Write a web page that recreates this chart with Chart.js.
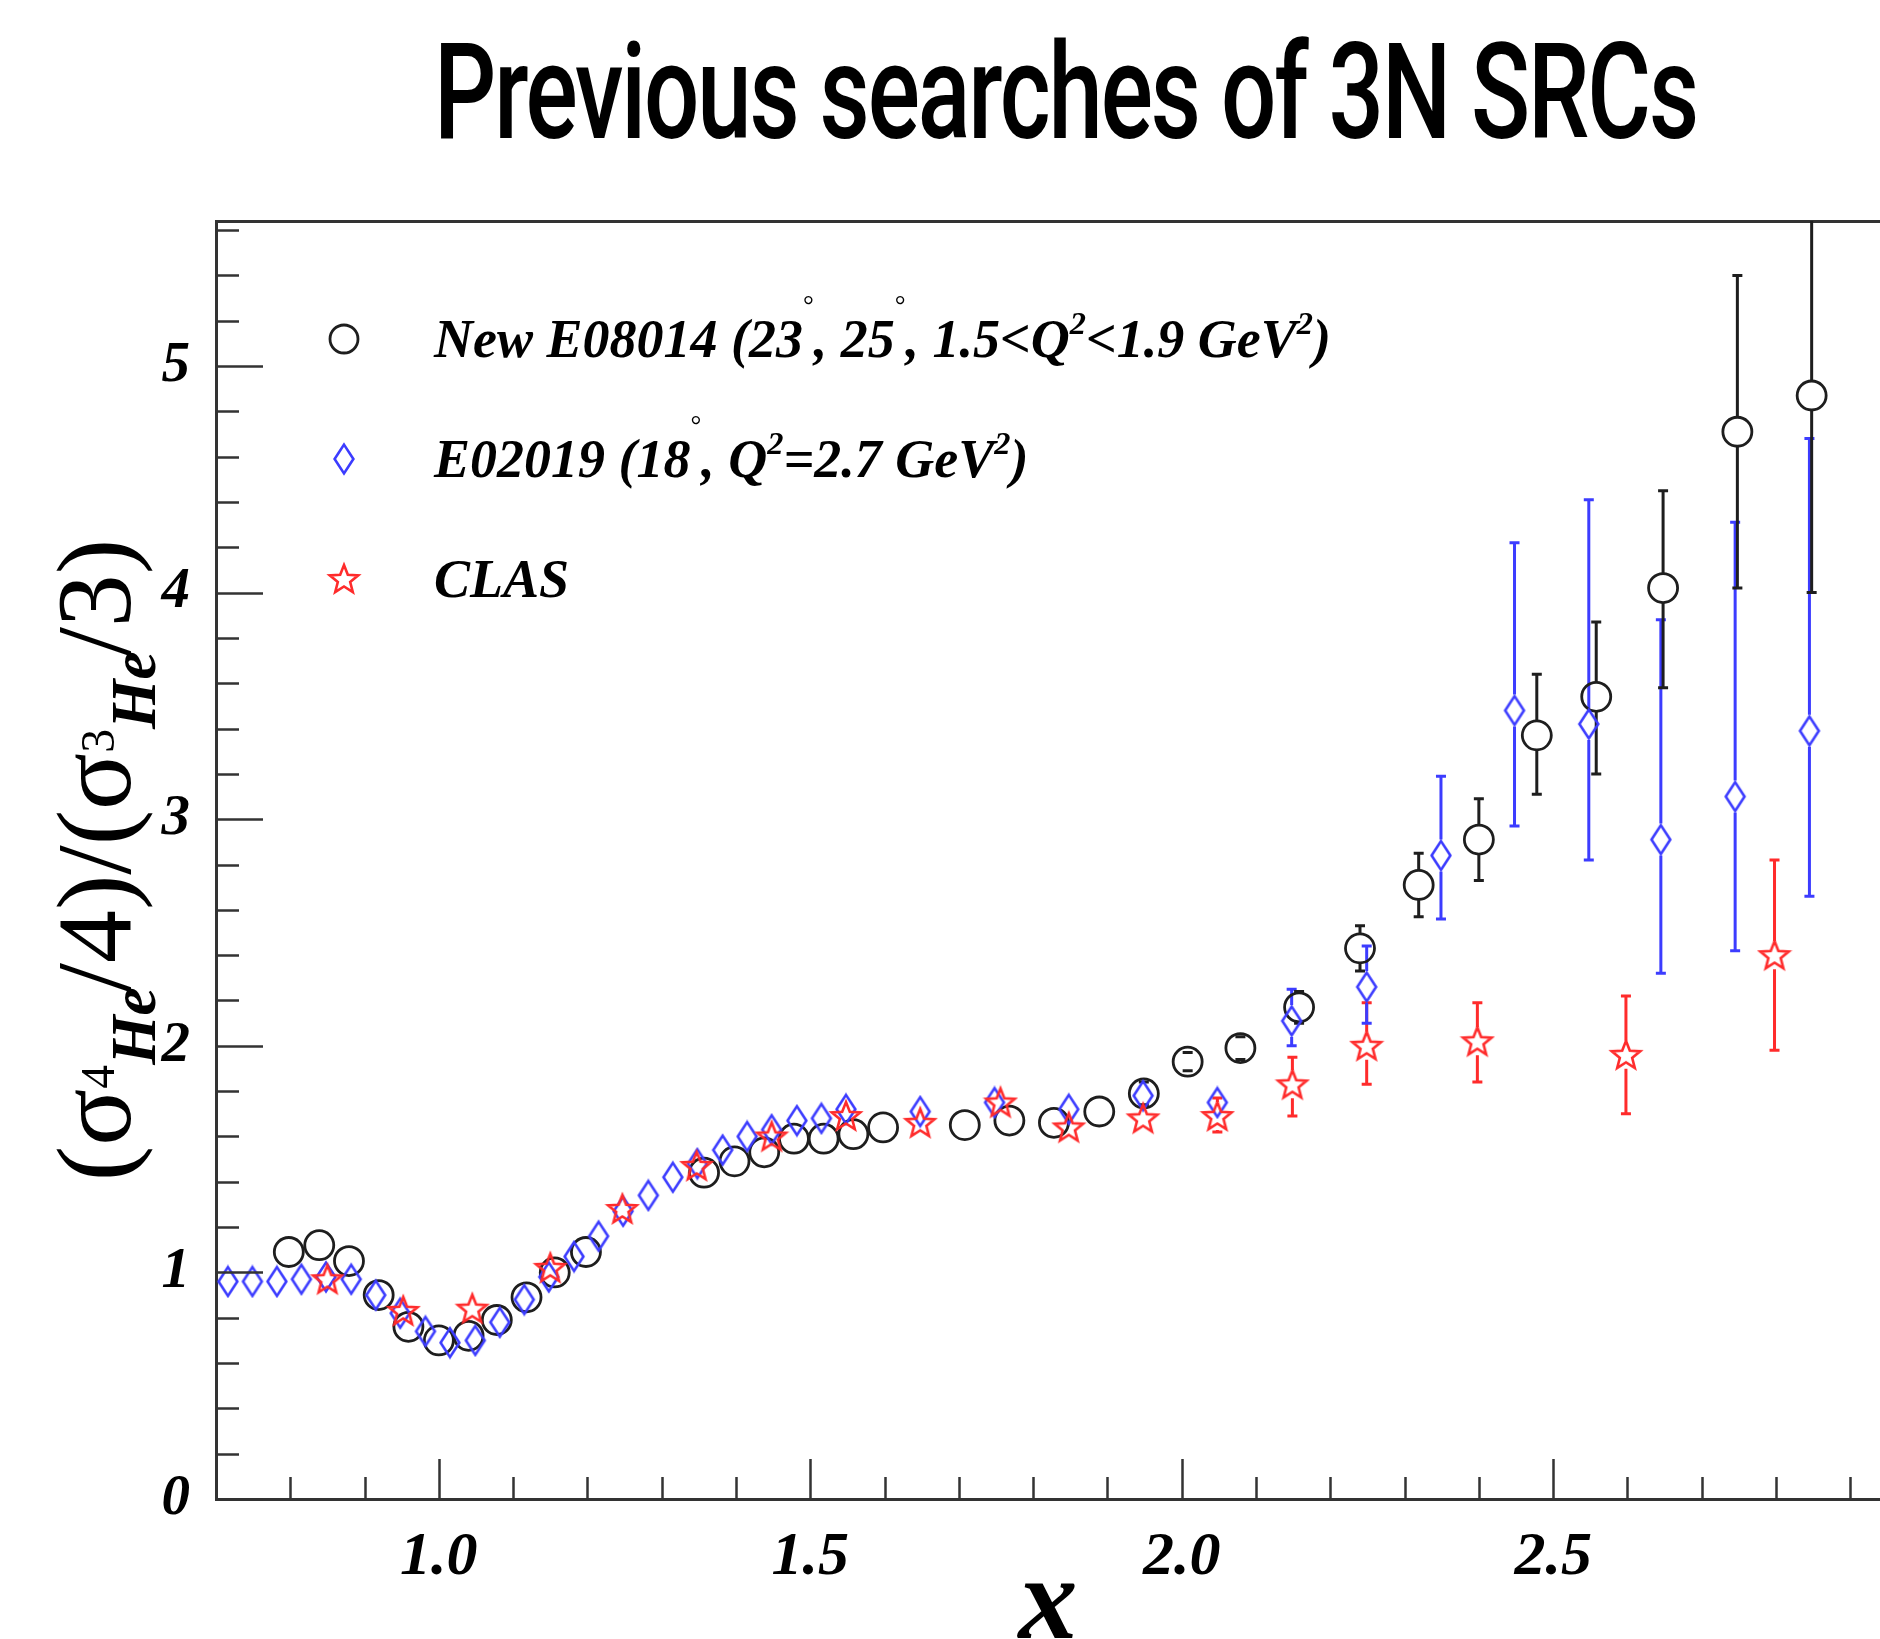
<!DOCTYPE html>
<html>
<head>
<meta charset="utf-8">
<script src="https://cdn.jsdelivr.net/npm/chart.js@4.4.1/dist/chart.umd.min.js"></script>
<style>
  html, body { margin: 0; padding: 0; background: #fff; overflow: hidden; }
  #wrap { width: 1880px; height: 1639px; position: relative; }
  #chart { display: block; }
</style>
</head>
<body>
<div id="wrap"><canvas id="chart" width="1880" height="1639"></canvas></div>
<script>
// ---- data ----
const e08014X  = [0.798, 0.839, 0.879, 0.919, 0.959, 1.000, 1.040, 1.078, 1.118, 1.156, 1.198,
                  1.357, 1.398, 1.438, 1.478, 1.518, 1.558, 1.598, 1.708, 1.768, 1.828, 1.889,
                  1.949, 2.008, 2.079, 2.158, 2.240, 2.319, 2.400, 2.478, 2.558, 2.648, 2.748, 2.848];
const e08014Y  = [1.09, 1.12, 1.05, 0.90, 0.76, 0.70, 0.72, 0.79, 0.89, 1.00, 1.09,
                  1.44, 1.49, 1.53, 1.59, 1.59, 1.61, 1.64, 1.65, 1.67, 1.66, 1.71,
                  1.79, 1.93, 1.99, 2.17, 2.43, 2.71, 2.91, 3.37, 3.54, 4.02, 4.71, 4.87];
const e08014Lo = [null, null, null, null, null, null, null, null, null, null, null,
                  null, null, null, null, null, null, null, null, null, null, null,
                  1.74, 1.89, 1.94, 2.10, 2.33, 2.57, 2.73, 3.11, 3.20, 3.58, 4.02, 4.00];
const e08014Hi = [null, null, null, null, null, null, null, null, null, null, null,
                  null, null, null, null, null, null, null, null, null, null, null,
                  1.84, 1.97, 2.04, 2.24, 2.53, 2.85, 3.09, 3.64, 3.87, 4.45, 5.40, 5.90];

const e02019X  = [0.716, 0.749, 0.782, 0.815, 0.848, 0.882, 0.915, 0.948, 0.982, 1.015, 1.049,
                  1.082, 1.115, 1.148, 1.182, 1.215, 1.248, 1.282, 1.315, 1.348, 1.382, 1.415,
                  1.448, 1.482, 1.515, 1.548, 1.648, 1.748, 1.848, 1.948, 2.048, 2.148, 2.249,
                  2.349, 2.448, 2.548, 2.645, 2.745, 2.845];
const e02019Y  = [0.96, 0.96, 0.96, 0.97, 0.98, 0.97, 0.90, 0.82, 0.74, 0.69, 0.70,
                  0.78, 0.88, 0.98, 1.07, 1.16, 1.27, 1.34, 1.42, 1.48, 1.54, 1.60,
                  1.63, 1.67, 1.68, 1.72, 1.71, 1.75, 1.72, 1.78, 1.75, 2.11, 2.26,
                  2.84, 3.48, 3.42, 2.91, 3.10, 3.39];
const e02019Lo = [null, null, null, null, null, null, null, null, null, null, null,
                  null, null, null, null, null, null, null, null, null, null, null,
                  null, null, null, null, null, null, null, null, null, 2.00, 2.10,
                  2.56, 2.97, 2.82, 2.32, 2.42, 2.66];
const e02019Hi = [null, null, null, null, null, null, null, null, null, null, null,
                  null, null, null, null, null, null, null, null, null, null, null,
                  null, null, null, null, null, null, null, null, null, 2.25, 2.44,
                  3.19, 4.22, 4.41, 3.88, 4.31, 4.68];

const clasX  = [0.850, 0.952, 1.045, 1.150, 1.247, 1.347, 1.448, 1.548, 1.648, 1.756, 1.848,
                1.948, 2.048, 2.149, 2.249, 2.398, 2.598, 2.798];
const clasY  = [0.97, 0.83, 0.84, 1.02, 1.28, 1.47, 1.60, 1.69, 1.66, 1.75, 1.64,
                1.68, 1.69, 1.83, 2.00, 2.02, 1.96, 2.40];
const clasLo = [null, null, null, null, null, null, null, null, null, null, null,
                null, 1.62, 1.69, 1.83, 1.84, 1.70, 1.98];
const clasHi = [null, null, null, null, null, null, null, null, null, null, null,
                null, 1.77, 1.95, 2.19, 2.19, 2.22, 2.82];

const xMajorTicks = [1.0, 1.5, 2.0, 2.5];
const yMajorTicks = [0, 1, 2, 3, 4, 5];

const BLACK = '#1e1e1e';
const BLUE = '#3c3cff';
const RED = '#ff2b2b';
const SERIF = '"Liberation Serif", "Times New Roman", serif';

// ---- marker images ----
function diamondImg(w, h, color, lw) {
  const c = document.createElement('canvas');
  c.width = w + lw * 2; c.height = h + lw * 2;
  const g = c.getContext('2d');
  g.strokeStyle = color; g.lineWidth = lw; g.lineJoin = 'miter';
  g.beginPath();
  g.moveTo(c.width / 2, lw);
  g.lineTo(c.width - lw, c.height / 2);
  g.lineTo(c.width / 2, c.height - lw);
  g.lineTo(lw, c.height / 2);
  g.closePath();
  g.stroke();
  return c;
}
function starImg(ro, ri, color, lw) {
  const s = Math.ceil(ro * 2 + lw * 2);
  const c = document.createElement('canvas');
  c.width = s; c.height = s;
  const g = c.getContext('2d');
  g.strokeStyle = color; g.lineWidth = lw; g.lineJoin = 'miter';
  g.beginPath();
  for (let k = 0; k < 10; k++) {
    const r = k % 2 === 0 ? ro : ri;
    const a = -Math.PI / 2 + k * Math.PI / 5;
    const px = s / 2 + r * Math.cos(a), py = s / 2 + 1 + r * Math.sin(a);
    if (k === 0) g.moveTo(px, py); else g.lineTo(px, py);
  }
  g.closePath();
  g.stroke();
  return c;
}
const diamond = diamondImg(19, 29, BLUE, 2.6);
const star = starImg(15, 6.5, RED, 2.6);

function pts(xs, ys) { return xs.map((v, i) => ({ x: v, y: ys[i] })); }

// ---- plugins ----
const errorBars = {
  id: 'errorBars',
  beforeDatasetsDraw(chart) {
    const { ctx, chartArea: a, scales: { x, y } } = chart;
    ctx.save();
    ctx.beginPath(); ctx.rect(a.left, a.top, a.right - a.left, a.bottom - a.top); ctx.clip();
    chart.data.datasets.forEach(ds => {
      ctx.strokeStyle = ds.errColor; ctx.lineWidth = 3;
      ds.data.forEach((p, i) => {
        const lo = ds.errLo[i], hi = ds.errHi[i];
        if (lo == null) return;
        const px = x.getPixelForValue(p.x), py = y.getPixelForValue(p.y);
        const pl = y.getPixelForValue(lo), ph = y.getPixelForValue(hi);
        const gap = ds.errGap;
        ctx.beginPath();
        if (pl > py + gap) { ctx.moveTo(px, pl); ctx.lineTo(px, py + gap); }
        if (ph < py - gap) { ctx.moveTo(px, py - gap); ctx.lineTo(px, ph); }
        ctx.moveTo(px - 5, pl); ctx.lineTo(px + 5, pl);
        ctx.moveTo(px - 5, ph); ctx.lineTo(px + 5, ph);
        ctx.stroke();
      });
    });
    ctx.restore();
  }
};

const innerTicks = {
  id: 'innerTicks',
  afterDraw(chart) {
    const { ctx, chartArea: a, scales: { x, y } } = chart;
    ctx.save();
    ctx.strokeStyle = '#333'; ctx.lineWidth = 2.5;
    ctx.beginPath();
    for (let k = 0; k <= 28; k++) {
      const v = k * 0.2;
      if (v > y.max) break;
      const py = Math.round(y.getPixelForValue(v)) + 0.5;
      const len = k % 5 === 0 ? 47 : 23;
      ctx.moveTo(a.left, py); ctx.lineTo(a.left + len, py);
    }
    for (let k = 7; k <= 29; k++) {
      const v = k / 10;
      if (v > x.max) break;
      const px = Math.round(x.getPixelForValue(v)) + 0.5;
      const len = k % 5 === 0 ? 40 : 22;
      ctx.moveTo(px, a.bottom); ctx.lineTo(px, a.bottom - len);
    }
    ctx.stroke();
    ctx.restore();
  }
};

function drawRich(ctx, segs, x0, yBase, size) {
  let xx = x0;
  segs.forEach(s => {
    const sz = size * (s.scale || 1);
    ctx.font = (s.font || 'italic bold') + ' ' + sz + 'px ' + SERIF;
    ctx.fillText(s.t, xx + (s.dx || 0) * size, yBase + (s.dy || 0) * size);
    xx += ctx.measureText(s.t).width + (s.dx || 0) * size;
  });
  return xx;
}
function richWidth(ctx, segs, size) {
  let w = 0;
  segs.forEach(s => {
    ctx.font = (s.font || 'italic bold') + ' ' + size * (s.scale || 1) + 'px ' + SERIF;
    w += ctx.measureText(s.t).width + (s.dx || 0) * size;
  });
  return w;
}

const legendRows = [
  { marker: 'circle', segs: [{ t: 'New E08014 (23' }, { t: '°', scale: 0.5, dy: -0.8, font: 'normal' }, { t: ', 25' },
      { t: '°', scale: 0.5, dy: -0.8, font: 'normal' }, { t: ', 1.5<Q' }, { t: '2', scale: 0.6, dy: -0.42 },
      { t: '<1.9 GeV' }, { t: '2', scale: 0.6, dy: -0.42 }, { t: ')' }] },
  { marker: diamond, segs: [{ t: 'E02019 (18' }, { t: '°', scale: 0.5, dy: -0.8, font: 'normal' }, { t: ', Q' },
      { t: '2', scale: 0.6, dy: -0.42 }, { t: '=2.7 GeV' }, { t: '2', scale: 0.6, dy: -0.42 }, { t: ')' }] },
  { marker: star, segs: [{ t: 'CLAS' }] }
];

const decorations = {
  id: 'decorations',
  afterDraw(chart) {
    const { ctx, chartArea: a } = chart;
    ctx.save();
    ctx.fillStyle = '#000';
    ctx.textBaseline = 'alphabetic';
    // title
    const title = 'Previous searches of 3N SRCs';
    ctx.font = '500 134px Roboto, "Liberation Sans", sans-serif';
    ctx.letterSpacing = '-3px';
    const tw = ctx.measureText(title).width;
    ctx.save();
    ctx.translate(434, 138);
    ctx.scale(1263 / tw, 1);
    ctx.fillText(title, 0, 0);
    ctx.restore();
    ctx.letterSpacing = '0px';

    // legend
    const rowsY = [339, 459, 579];
    legendRows.forEach((r, i) => {
      const my = rowsY[i];
      if (r.marker === 'circle') {
        ctx.strokeStyle = BLACK; ctx.lineWidth = 2.8;
        ctx.beginPath(); ctx.arc(344, my, 14, 0, Math.PI * 2); ctx.stroke();
      } else {
        ctx.drawImage(r.marker, 344 - r.marker.width / 2, my - r.marker.height / 2);
      }
      ctx.fillStyle = '#000';
      drawRich(ctx, r.segs, 434, my + 18, 54);
    });

    // y-axis title
    const S = 106;
    const ySegs = [
      { t: '(σ', font: 'normal' },
      { t: '4', font: 'normal', scale: 0.45, dy: -0.15 },
      { t: 'He', scale: 0.6, dy: 0.24 },
      { t: '/4)/(σ', font: 'normal', dx: -0.05 },
      { t: '3', font: 'normal', scale: 0.45, dy: -0.15 },
      { t: 'He', scale: 0.6, dy: 0.24 },
      { t: '/3)', font: 'normal', dx: -0.05 }
    ];
    const w = richWidth(ctx, ySegs, S);
    ctx.save();
    ctx.translate(130, (a.top + a.bottom) / 2);
    ctx.rotate(-Math.PI / 2);
    drawRich(ctx, ySegs, -w / 2, 0, S);
    ctx.restore();
    ctx.restore();
  }
};

// ---- chart ----
Chart.defaults.font.family = SERIF;
Chart.defaults.color = '#000';

new Chart(document.getElementById('chart'), {
  type: 'scatter',
  data: {
    datasets: [
      {
        label: 'CLAS', data: pts(clasX, clasY), errLo: clasLo, errHi: clasHi, errColor: RED, errGap: 14,
        pointStyle: star, pointRadius: 15, borderColor: RED
      },
      {
        label: 'E02019', data: pts(e02019X, e02019Y), errLo: e02019Lo, errHi: e02019Hi, errColor: BLUE, errGap: 16,
        pointStyle: diamond, pointRadius: 15, borderColor: BLUE
      },
      {
        label: 'New E08014', data: pts(e08014X, e08014Y), errLo: e08014Lo, errHi: e08014Hi, errColor: BLACK, errGap: 14,
        pointStyle: 'circle', pointRadius: 14.5, borderWidth: 2.8, borderColor: BLACK, backgroundColor: 'rgba(0,0,0,0)'
      }
    ]
  },
  options: {
    responsive: false,
    animation: false,
    layout: { autoPadding: false, padding: { top: 221, left: 0, right: 0, bottom: 0 } },
    plugins: { legend: { display: false }, tooltip: { enabled: false } },
    scales: {
      x: {
        type: 'linear', min: 0.7, max: 2.94,
        afterFit(s) { s.height = 140; s.paddingLeft = 0; s.paddingRight = 0; },
        afterBuildTicks(s) { s.ticks = xMajorTicks.map(v => ({ value: v })); },
        grid: { display: false },
        border: { display: true, color: '#333', width: 3 },
        ticks: {
          padding: 14, maxRotation: 0, autoSkip: false,
          font: { size: 62, style: 'italic', weight: 'bold' },
          callback: v => v.toFixed(1)
        },
        title: {
          display: true, text: 'x', color: '#000',
          font: { size: 118, style: 'italic', weight: 'bold', lineHeight: 1 },
          padding: { top: 0, bottom: -28 }
        }
      },
      xTop: {
        type: 'linear', position: 'top', min: 0.7, max: 2.94,
        afterFit(s) { s.height = 0; s.paddingLeft = 0; s.paddingRight = 0; },
        grid: { display: false },
        border: { display: true, color: '#333', width: 3 },
        ticks: { display: false }
      },
      y: {
        type: 'linear', min: 0, max: 5.64,
        afterFit(s) { s.width = 216; s.paddingTop = 0; s.paddingBottom = 0; },
        afterBuildTicks(s) { s.ticks = yMajorTicks.map(v => ({ value: v })); },
        grid: { display: false },
        border: { display: true, color: '#333', width: 3 },
        ticks: {
          padding: 18, autoSkip: false,
          font: { size: 57, style: 'italic', weight: 'bold' },
          callback: v => String(v)
        }
      }
    }
  },
  plugins: [errorBars, innerTicks, decorations]
});
</script>
</body>
</html>
